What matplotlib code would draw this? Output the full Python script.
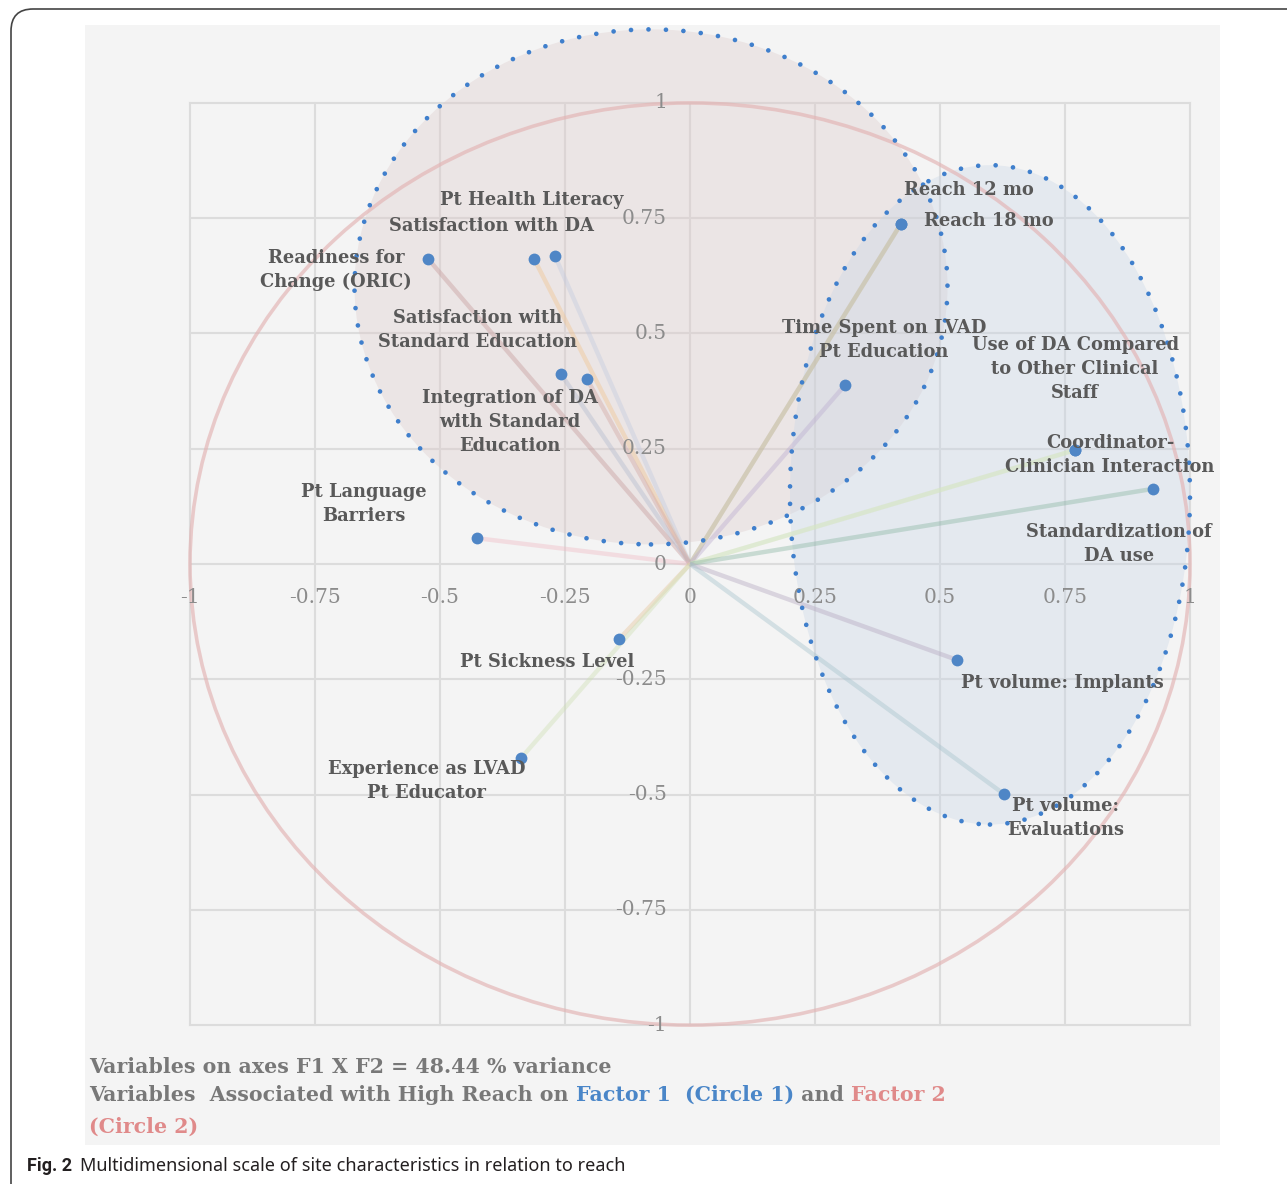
import matplotlib
matplotlib.use("Agg")
import matplotlib.pyplot as plt
from matplotlib.patches import Ellipse, Circle, FancyBboxPatch

# Variable loadings on F1 (x) and F2 (y)
variables = [
    "Readiness for\nChange (ORIC)",
    "Satisfaction with DA",
    "Pt Health Literacy",
    "Satisfaction with\nStandard Education",
    "Integration of DA\nwith Standard\nEducation",
    "Reach 12 mo",
    "Reach 18 mo",
    "Time Spent on LVAD\nPt Education",
    "Use of DA Compared\nto Other Clinical\nStaff",
    "Coordinator-\nClinician Interaction",
    "Standardization of\nDA use",
    "Pt Language\nBarriers",
    "Pt Sickness Level",
    "Experience as LVAD\nPt Educator",
    "Pt volume: Implants",
    "Pt volume:\nEvaluations",
]
f1 = [-0.524, -0.312, -0.270, -0.258, -0.206, 0.422, 0.422, 0.310, 0.770, 0.770,
      0.926, -0.426, -0.142, -0.338, 0.534, 0.628]
f2 = [0.662, 0.662, 0.668, 0.412, 0.401, 0.738, 0.738, 0.388, 0.247, 0.247,
      0.163, 0.056, -0.163, -0.421, -0.208, -0.499]

ticks = [-1, -0.75, -0.5, -0.25, 0, 0.25, 0.5, 0.75, 1]
tick_labels = ["-1", "-0.75", "-0.5", "-0.25", "0", "0.25", "0.5", "0.75", "1"]

# where each variable name is written
label_xy = [(-0.708, 0.638), (-0.396, 0.733), (-0.316, 0.790), (-0.424, 0.508),
            (-0.360, 0.308), (0.558, 0.811), (0.598, 0.744), (0.388, 0.486),
            (0.770, 0.423), (0.840, 0.236), (0.858, 0.043), (-0.652, 0.130),
            (-0.286, -0.213), (-0.526, -0.471), (0.744, -0.258), (0.752, -0.551)]

line_colors = ["#c79c9c", "#f0c491", "#c3cbe0", "#b4bccf", "#d3a7a3", "#c8c0a6",
               "#c8c0a6", "#bcaed0", "#d6e6c3", "#d6e6c3", "#8cb7a5", "#f0bcc6",
               "#e6c59c", "#cfe0b5", "#b5a8c0", "#a6c3cc"]

fig = plt.figure(figsize=(12.87, 11.84), dpi=100)

# page layer in pixel coordinates: the rounded frame
bg = fig.add_axes([0, 0, 1, 1])
bg.set_xlim(0, 1287)
bg.set_ylim(1184, 0)
bg.axis("off")
bg.add_patch(FancyBboxPatch((11, 9), 1320, 1220, boxstyle="round,pad=0,rounding_size=22",
                            fc="white", ec="#444444", lw=1.2))

ax = fig.add_axes([85 / 1287, 39 / 1184, 1135 / 1287, 1120 / 1184])
ax.set_xlim(-1.21, 1.06)
ax.set_ylim(-1.260, 1.169)
ax.set_facecolor("#f4f4f4")
for s in ax.spines.values():
    s.set_visible(False)
ax.set_xticks([])
ax.set_yticks([])

# grid
for t in ticks:
    ax.plot([t, t], [-1, 1], color="#dcdcdc", lw=1.5, zorder=1)
    ax.plot([-1, 1], [t, t], color="#dcdcdc", lw=1.5, zorder=1)

# tick labels written along the zero lines
for t, lab in zip(ticks, tick_labels):
    ax.text(t, -0.072, lab, ha="center", va="center", fontsize=14.5,
            family="DejaVu Serif", color="#8c8c8c", zorder=6)
    ax.text(-0.046, t, lab, ha="right", va="center", fontsize=14.5,
            family="DejaVu Serif", color="#8c8c8c", zorder=6)

# factor groupings
ax.add_patch(Ellipse((-0.078, 0.601), 1.186, 1.117, fc="#dcc9c9", alpha=0.35,
                     ec="none", zorder=2))
ax.add_patch(Ellipse((0.60, 0.15), 0.80, 1.43, fc="#c7d5e6", alpha=0.35,
                     ec="none", zorder=2))
for e in [Ellipse((-0.078, 0.601), 1.186, 1.117), Ellipse((0.60, 0.15), 0.80, 1.43)]:
    e.set_facecolor("none")
    e.set_edgecolor("#3f7fcc")
    e.set_linewidth(3.4)
    e.set_linestyle((0, (0.001, 3.7)))
    e.set_capstyle("round")
    e.set_zorder(5)
    ax.add_patch(e)

# correlation circle
ax.add_patch(Circle((0, 0), 1, fc="none", ec="#e3b3b3", lw=2.6, alpha=0.65, zorder=3))

# vectors and points
for x, y, c in zip(f1, f2, line_colors):
    ax.plot([0, x], [0, y], color=c, lw=3.2, alpha=0.42, solid_capstyle="butt", zorder=4)
ax.plot(f1, f2, "o", color="#4f86c6", ms=8.5, mec="none", zorder=7)

for name, (lx, ly) in zip(variables, label_xy):
    ax.text(lx, ly, name, ha="center", va="center", fontsize=12.9, fontweight="bold",
            family="DejaVu Serif", color="#595959", linespacing=1.42, zorder=8)

# text layer on top: footnote with coloured factor names, and caption
top = fig.add_axes([0, 0, 1, 1])
top.set_xlim(0, 1287)
top.set_ylim(1184, 0)
top.axis("off")
top.patch.set_alpha(0)

renderer = fig.canvas.get_renderer()
foot_kw = dict(fontsize=14.8, fontweight="bold", family="DejaVu Serif", va="center")
top.text(89, 1067, "Variables on axes F1 X F2 = 48.44 % variance", color="#787878", **foot_kw)
x0 = 89
for piece, col in [("Variables  Associated with High Reach on ", "#787878"),
                   ("Factor 1  (Circle 1)", "#4a86c8"),
                   (" and ", "#787878"),
                   ("Factor 2", "#e08a8a")]:
    t = top.text(x0, 1095, piece, color=col, **foot_kw)
    x0 += t.get_window_extent(renderer).width
top.text(89, 1127, "(Circle 2)", color="#e08a8a", **foot_kw)

cap = top.text(27, 1166, "Fig. 2", fontsize=13, fontweight="bold", family="Roboto",
               color="#231f20", va="center")
bb = cap.get_window_extent(renderer)
top.text(27 + bb.width + 8, 1166,
         "Multidimensional scale of site characteristics in relation to reach",
         fontsize=13, family="Noto Sans", color="#231f20", va="center")

fig.savefig("out.png", dpi=100)
